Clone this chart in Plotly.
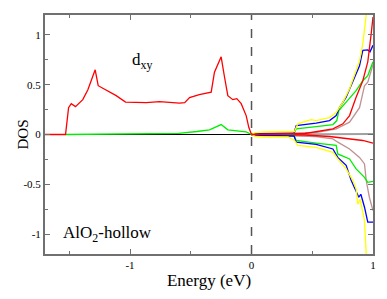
import plotly.graph_objects as go

# Occupied region (E<0)
red_occ_E = [-1.7, -1.531, -1.506, -1.484, -1.449, -1.389, -1.347, -1.311, -1.287, -1.262, -1.114, -1.037,
             -0.867, -0.757, -0.593, -0.55, -0.51, -0.43, -0.346, -0.332, -0.305, -0.25, -0.222, -0.195,
             -0.154, -0.121, -0.085, -0.044, -0.022, 0.0]
red_occ_D = [0.0, 0.0, 0.27, 0.31, 0.28, 0.35, 0.45, 0.58, 0.65, 0.49, 0.39, 0.325,
             0.32, 0.33, 0.315, 0.32, 0.37, 0.40, 0.425, 0.425, 0.625, 0.78, 0.575, 0.39,
             0.35, 0.36, 0.31, 0.19, 0.07, 0.0]
green_occ_E = [-1.531, -1.0, -0.6, -0.45, -0.346, -0.25, -0.195, -0.044, 0.0]
green_occ_D = [0.0, 0.003, 0.012, 0.03, 0.047, 0.10, 0.047, 0.027, 0.0]

# Unoccupied region (E>0), spin up (+) and spin down (-)
yellow_up_E = [0.0, 0.03, 0.1, 0.2, 0.3, 0.354, 0.381, 0.49, 0.532, 0.642, 0.697, 0.752, 0.807, 0.861, 0.889, 0.916, 0.944]
yellow_up_D = [0.0, 0.018, 0.025, 0.025, 0.025, 0.03, 0.107, 0.15, 0.14, 0.17, 0.22, 0.325, 0.46, 0.64, 0.74, 0.91, 1.2]
yellow_dn_E = [0.0, 0.03, 0.1, 0.2, 0.3, 0.354, 0.381, 0.532, 0.67, 0.71, 0.779, 0.834, 0.861, 0.875, 0.894, 0.93, 0.944]
yellow_dn_D = [0.0, -0.018, -0.025, -0.025, -0.025, -0.06, -0.11, -0.13, -0.18, -0.245, -0.345, -0.46, -0.545, -0.70, -0.65, -0.865, -1.2]

blue_up_E = [0.0, 0.1, 0.35, 0.368, 0.532, 0.642, 0.697, 0.724, 0.779, 0.82, 0.861, 0.889, 0.916, 0.957, 0.975, 1.0]
blue_up_D = [0.0, 0.01, 0.015, 0.09, 0.114, 0.14, 0.19, 0.27, 0.375, 0.49, 0.61, 0.69, 0.845, 0.85, 0.83, 0.895]
blue_dn_E = [0.0, 0.1, 0.35, 0.368, 0.532, 0.67, 0.71, 0.779, 0.82, 0.861, 0.883, 0.9, 0.93, 0.957, 1.0]
blue_dn_D = [0.0, -0.01, -0.015, -0.077, -0.10, -0.145, -0.23, -0.31, -0.46, -0.58, -0.63, -0.60, -0.73, -0.88, -0.88]

green_up_E = [0.0, 0.1, 0.35, 0.368, 0.532, 0.67, 0.702, 0.719, 0.779, 0.861, 0.916, 0.957, 1.0]
green_up_D = [0.0, 0.008, 0.01, 0.057, 0.08, 0.10, 0.14, 0.24, 0.325, 0.44, 0.54, 0.59, 0.73]
green_dn_E = [0.0, 0.1, 0.35, 0.368, 0.532, 0.697, 0.71, 0.807, 0.861, 0.93, 0.957, 1.0]
green_dn_D = [0.0, -0.008, -0.01, -0.06, -0.087, -0.11, -0.195, -0.245, -0.345, -0.43, -0.48, -0.47]

red_up_E = [0.0, 0.44, 0.67, 0.752, 0.807, 0.861, 0.916, 0.957, 0.985, 1.0]
red_up_D = [0.0, 0.01, 0.057, 0.107, 0.19, 0.375, 0.54, 0.73, 1.01, 1.18]
red_dn_E = [0.0, 0.44, 0.642, 0.807, 0.916, 1.0]
red_dn_D = [0.0, -0.005, -0.02, -0.045, -0.06, -0.087]

brown_up_E = [0.0, 0.53, 0.697, 0.807, 0.889, 0.93, 0.957, 1.0]
brown_up_D = [0.0, 0.02, 0.057, 0.124, 0.27, 0.49, 0.525, 0.70]
brown_dn_E = [0.0, 0.53, 0.67, 0.71, 0.807, 0.889, 0.93, 0.944, 0.97, 1.0]
brown_dn_D = [0.0, -0.02, -0.045, -0.077, -0.145, -0.23, -0.295, -0.46, -0.63, -0.765]

gray_E = [0.0, 0.35, 0.7, 1.0]
gray_D = [0.0, 0.003, 0.004, 0.005]

x_tickvals = [-1, 0, 1]
x_ticktext = ["-1", "0", "1"]
y_tickvals = [-1, -0.5, 0, 0.5, 1]
y_ticktext = ["-1", "-0.5", "0", "0.5", "1"]

fig = go.Figure()

def add(x, y, color, w=1.3):
    fig.add_trace(go.Scatter(x=x, y=y, mode="lines", line=dict(color=color, width=w),
                             showlegend=False, hoverinfo="skip"))

add(gray_E, gray_D, "#a0a0a0", 2)
add(brown_up_E, brown_up_D, "#c09090")
add(brown_dn_E, brown_dn_D, "#c09090")
add(red_dn_E, red_dn_D, "#ff0000")
add(green_up_E, green_up_D, "#00ee00")
add(green_dn_E, green_dn_D, "#00ee00")
add(blue_up_E, blue_up_D, "#0000ff")
add(blue_dn_E, blue_dn_D, "#0000ff")
add(yellow_up_E, yellow_up_D, "#ffff00")
add(yellow_dn_E, yellow_dn_D, "#ffff00")
add(red_up_E, red_up_D, "#ff0000")
add(green_occ_E, green_occ_D, "#00ee00")
add(red_occ_E, red_occ_D, "#ff0000")

font = "'Liberation Serif', serif"

fig.add_shape(type="line", x0=-1.7, x1=1.0, y0=0, y1=0, xref="x", yref="y",
              line=dict(color="black", width=1), layer="below")
fig.add_shape(type="line", x0=0, x1=0, y0=-1.2, y1=1.2, xref="x", yref="y",
              line=dict(color="#555555", width=1.5, dash="dash"))

fig.add_annotation(x=-0.9, y=0.74, xref="x", yref="y", text="d<sub>xy</sub>", showarrow=False,
                   font=dict(family=font, size=17, color="black"))
fig.add_annotation(x=-1.57, y=-1.0, xref="x", yref="y", text="AlO<sub>2</sub>-hollow", showarrow=False,
                   xanchor="left", font=dict(family=font, size=17, color="black"))
# y-axis title placed as rotated text
fig.add_annotation(x=-0.07, y=0.5, xref="paper", yref="paper", text="DOS", showarrow=False,
                   textangle=-90, xanchor="center", yanchor="middle",
                   font=dict(family=font, size=15, color="black"))

axis_common = dict(showgrid=False, zeroline=False, showline=True, linecolor="#707070", linewidth=2,
                   mirror="allticks", ticks="inside", ticklen=5, tickcolor="#707070", tickwidth=1,
                   tickfont=dict(family=font, size=11, color="black"))

fig.update_xaxes(range=[-1.7, 1.0], tickmode="array", tickvals=x_tickvals, ticktext=x_ticktext,
                 minor=dict(ticks="inside", dtick=0.5, tick0=0, ticklen=3, tickcolor="#707070"),
                 title=dict(text="Energy (eV)", font=dict(family=font, size=17, color="black"), standoff=3),
                 **axis_common)
fig.update_yaxes(range=[-1.2, 1.2], tickmode="array", tickvals=y_tickvals, ticktext=y_ticktext,
                 minor=dict(ticks="inside", dtick=0.25, tick0=0, ticklen=3, tickcolor="#707070"),
                 **axis_common)

fig.update_layout(width=387, height=299, margin=dict(l=45, r=14, t=15, b=45),
                  plot_bgcolor="white", paper_bgcolor="white")

fig.write_html("out.html", config={"displayModeBar": False},
               post_script="document.body.style.margin='0';")
